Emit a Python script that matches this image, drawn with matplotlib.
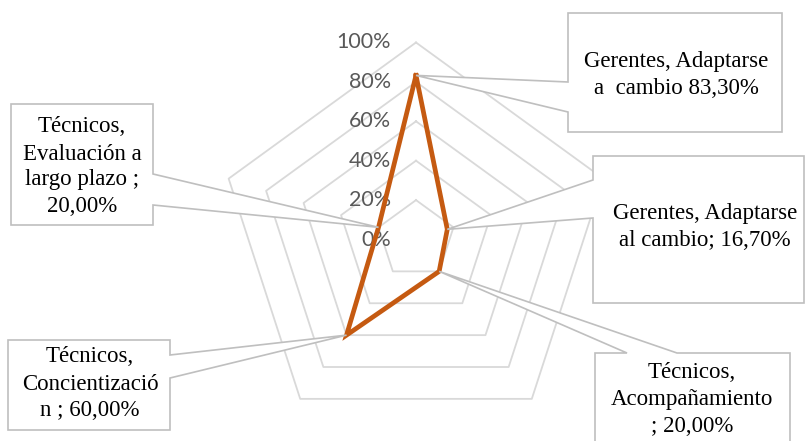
import numpy as np
import matplotlib
matplotlib.use("Agg")
import matplotlib.pyplot as plt
from matplotlib.patches import Polygon

# ---------------- data ----------------
categories = [
    "Gerentes, Adaptarse a cambio",
    "Gerentes, Adaptarse al cambio",
    "Técnicos, Acompañamiento",
    "Técnicos, Concientización",
    "Técnicos, Evaluación a largo plazo",
]
values = [0.833, 0.167, 0.20, 0.60, 0.20]
tick_values = [0.0, 0.2, 0.4, 0.6, 0.8, 1.0]
tick_labels = ["0%", "20%", "40%", "60%", "80%", "100%"]
callout_lines = [
    ["Gerentes, Adaptarse", "a  cambio 83,30%"],
    ["Gerentes, Adaptarse", "al cambio; 16,70%"],
    ["Técnicos,", "Acompañamiento", "; 20,00%"],
    ["Técnicos,", "Concientizació", "n ; 60,00%"],
    ["Técnicos,", "Evaluación a", "largo plazo ;", "20,00%"],
]

# ---------------- layout (pixel space) ----------------
W, H = 805, 441
CX, CY, R = 416.0, 239.5, 197.0
GRID_C = "#D9D9D9"
LINE_C = "#C55A11"
BOX_C = "#BFBFBF"

fig = plt.figure(figsize=(W / 100, H / 100), dpi=100)
ax = fig.add_axes([0, 0, 1, 1])
ax.set_xlim(0, W)
ax.set_ylim(H, 0)
ax.axis("off")

n = len(categories)
angles = np.arange(n) * 2 * np.pi / n


def to_xy(frac, ang):
    return CX + frac * R * np.sin(ang), CY - frac * R * np.cos(ang)


# grid pentagons
for t in tick_values[1:]:
    xs, ys = to_xy(t, np.append(angles, angles[0]))
    ax.plot(xs, ys, color=GRID_C, lw=1.3, zorder=1)

# tick labels
for t, lab in zip(tick_values, tick_labels):
    ax.text(391, CY - t * R, lab, ha="right", va="center", fontsize=15.5,
            family="Lato", color="#595959", zorder=2)

# data polygon
vals = np.array(values)
px, py = to_xy(vals, angles)
ax.plot(np.append(px, px[0]), np.append(py, py[0]), color=LINE_C, lw=3.4,
        solid_joinstyle="miter", zorder=4)

# callouts: box (x0, y0, x1, y1), side, wedge attach positions
boxes = [
    ((568, 13, 782, 132), "left", (82, 112)),
    ((593, 156, 804, 303), "left", (180, 218)),
    ((595, 353, 790, 450), "top", (627, 677)),
    ((8, 340, 170, 430), "right", (355, 378)),
    ((11, 104, 153, 225), "right", (174, 205)),
]
text_pos = [
    (676, [62, 88]),
    (705, [214, 240]),
    (692, [373, 400, 427]),
    (90, [357, 384, 411]),
    (82, [127, 154, 180, 207]),
]

for i, ((x0, y0, x1, y1), side, (a, b)) in enumerate(boxes):
    tip = (px[i], py[i])
    if side == "left":
        verts = [(x0, y0), (x1, y0), (x1, y1), (x0, y1), (x0, b), tip, (x0, a)]
    elif side == "right":
        verts = [(x0, y0), (x1, y0), (x1, a), tip, (x1, b), (x1, y1), (x0, y1)]
    else:  # top
        verts = [(x0, y0), (a, y0), tip, (b, y0), (x1, y0), (x1, y1), (x0, y1)]
    poly = Polygon(verts, closed=True, facecolor="white", edgecolor=BOX_C,
                   lw=1.2, zorder=5, joinstyle="miter")
    ax.add_patch(poly)
    cx, ys = text_pos[i]
    for line, y in zip(callout_lines[i], ys):
        ax.text(cx, y, line, ha="center", va="center", fontsize=16.5,
                family="Liberation Serif", color="black", zorder=6)

fig.savefig("out.png", dpi=100)
